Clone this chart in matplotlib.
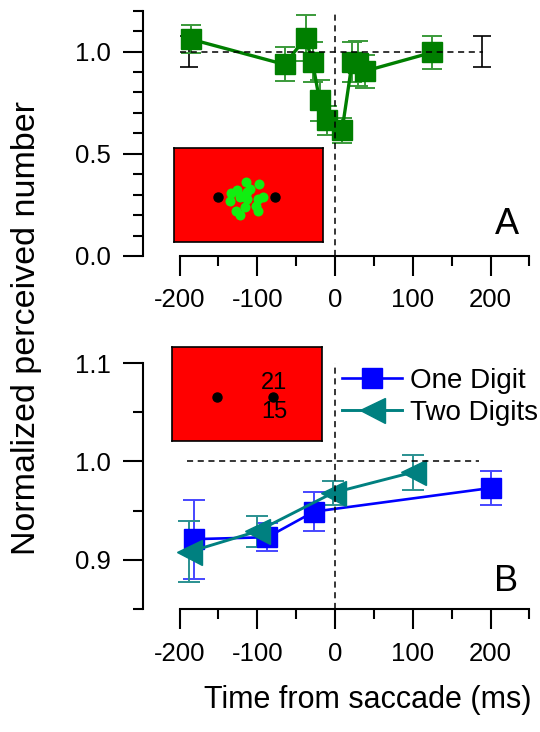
import numpy as np
import matplotlib
matplotlib.use('Agg')
import matplotlib.pyplot as plt

plt.rcParams['font.family'] = ['Liberation Sans', 'DejaVu Sans']
plt.rcParams['axes.unicode_minus'] = False

# panel A: saccade data (green squares)
t_a = [-185, -65, -38, -29, -20, -10, 9, 22, 29, 38, 125]
n_a = [1.06, 0.937, 1.066, 0.949, 0.762, 0.664, 0.615, 0.949, 0.944, 0.904, 0.996]
e_a = [0.068, 0.083, 0.113, 0.1, 0.1, 0.07, 0.06, 0.1, 0.11, 0.08, 0.08]
# reference (fixation) error bars at 1.0
t_ref = [-188, 189]
n_ref = [1.0, 1.0]
e_ref = [0.075, 0.075]

# panel B: one vs two digits
t_one = [-182, -87, -27, 200]
n_one = [0.921, 0.923, 0.949, 0.973]
e_one = [0.04, 0.014, 0.02, 0.017]
t_two = [-188, -100, -3, 100]
n_two = [0.908, 0.929, 0.968, 0.989]
e_two = [0.031, 0.016, 0.012, 0.018]

# inset A: green dots (inset pixel coords)
dots_x = [72.3, 85.3, 77, 73.7, 63.3, 57.3, 66.7, 73.7, 56.7, 84.3, 89.3, 82.7, 71, 85, 62, 66.7, 69.3]
dots_y = [33.7, 36, 41, 43.7, 42.3, 44.7, 49, 51, 52.7, 50.7, 49.3, 57.7, 59, 63.3, 62.7, 66.7, 48.3]
fix_x = [44, 102]
fix_y = [49, 49]

fig = plt.figure(figsize=(5.4, 7.32), dpi=100)
ax_a = fig.add_axes([0.2648, 0.6503, 0.7157, 0.3351])
ax_b = fig.add_axes([0.2648, 0.168, 0.7157, 0.336])


def style(ax, ylo, yhi, majors, minors, labels):
    for s in ['top', 'right']:
        ax.spines[s].set_visible(False)
    for s in ['left', 'bottom']:
        ax.spines[s].set_linewidth(1.5)
    ax.spines['left'].set_bounds(ylo, yhi)
    ax.spines['bottom'].set_bounds(-200, 250)
    ax.set_xlim(-247, 250)
    ax.set_ylim(ylo, yhi)
    ax.set_xticks([-200, -100, 0, 100, 200])
    ax.set_xticks([-150, -50, 50, 150, 250], minor=True)
    ax.set_yticks(majors)
    ax.set_yticklabels(labels)
    ax.set_yticks(minors, minor=True)
    ax.tick_params(which='major', direction='out', length=14.4, width=1.5,
                   labelsize=18.5, pad=9)
    ax.tick_params(which='minor', direction='out', length=7.2, width=1.5)
    ax.patch.set_visible(False)


style(ax_a, 0, 1.2, [0, 0.5, 1.0], [0.1, 0.2, 0.3, 0.4, 0.6, 0.7, 0.8, 0.9, 1.1, 1.2],
      ['0.0', '0.5', '1.0'])
style(ax_b, 0.85, 1.1, [0.9, 1.0, 1.1], [0.85, 0.95, 1.05], ['0.9', '1.0', '1.1'])

dash = (0, (4, 3))
# panel A
ax_a.errorbar(t_ref, n_ref, yerr=e_ref, fmt='none', ecolor='black',
              elinewidth=1.2, capsize=6.3, capthick=1.2, zorder=2)
ax_a.errorbar(t_a, n_a, yerr=e_a, fmt='none', ecolor='#3a9a3a',
              elinewidth=1.4, capsize=7.5, capthick=1.4, zorder=2)
ax_a.plot(t_a, n_a, '-s', color='#007f00', ms=14, lw=2.4, zorder=3)
ax_a.plot([-200, 190], [1.0, 1.0], color='black', lw=1.1, ls=dash, zorder=5)
ax_a.plot([0, 0], [0, 1.2], color='black', lw=1.1, ls=dash, zorder=5)
ax_a.text(221, 0.152, 'A', fontsize=26, ha='center', va='center')

# panel B
ax_b.errorbar(t_one, n_one, yerr=e_one, fmt='none', ecolor='#4646ff',
              elinewidth=1.4, capsize=8, capthick=1.4, zorder=2)
ax_b.errorbar(t_two, n_two, yerr=e_two, fmt='none', ecolor='#2a9090',
              elinewidth=1.4, capsize=8, capthick=1.4, zorder=2)
l1, = ax_b.plot(t_one, n_one, '-s', color='#0000ff', ms=14, lw=1.9, zorder=3,
                label='One Digit')
l2, = ax_b.plot(t_two, n_two, '-<', color='#008080', ms=18, lw=2.1, zorder=3,
                label='Two Digits')
ax_b.plot([-190, 185], [1.0, 1.0], color='black', lw=1.1, ls=dash, zorder=5)
ax_b.plot([0, 0], [0.85, 1.1], color='black', lw=1.1, ls=dash, zorder=5)
ax_b.text(220, 0.878, 'B', fontsize=26, ha='center', va='center')

fig.legend(handles=[l1, l2], loc='upper left', bbox_to_anchor=(0.633, 0.497),
           bbox_transform=fig.transFigure, frameon=False, fontsize=20,
           handlelength=2.15, handletextpad=0.3, labelspacing=0.2,
           borderpad=0, borderaxespad=0)

fig.text(0.05, (732 - 328) / 732, 'Normalized perceived number', rotation=90,
         fontsize=24.5, ha='center', va='center')
fig.text(367.5 / 540, (732 - 700) / 732, 'Time from saccade (ms)', fontsize=22,
         ha='center', va='center')

# insets
in_a = fig.add_axes([174 / 540, (732 - 242) / 732, 149 / 540, 94 / 732])
in_b = fig.add_axes([172 / 540, (732 - 441) / 732, 150 / 540, 94 / 732])
for ia in [in_a, in_b]:
    ia.set_facecolor('#ff0000')
    ia.set_xlim(0, 150)
    ia.set_ylim(94, 0)
    ia.set_xticks([])
    ia.set_yticks([])
    for s in ia.spines.values():
        s.set_linewidth(1.2)
in_a.plot(dots_x, dots_y, 'o', color='#11ee11', ms=7.2, mec='none')
in_a.plot(fix_x, fix_y, 'o', color='black', ms=6.5)
in_b.plot([45, 101], [50, 50], 'o', color='black', ms=6.5)
in_b.text(102, 36, '21', fontsize=17, ha='center', va='center')
in_b.text(102, 65, '15', fontsize=17, ha='center', va='center')

plt.savefig('out.png', dpi=100)
